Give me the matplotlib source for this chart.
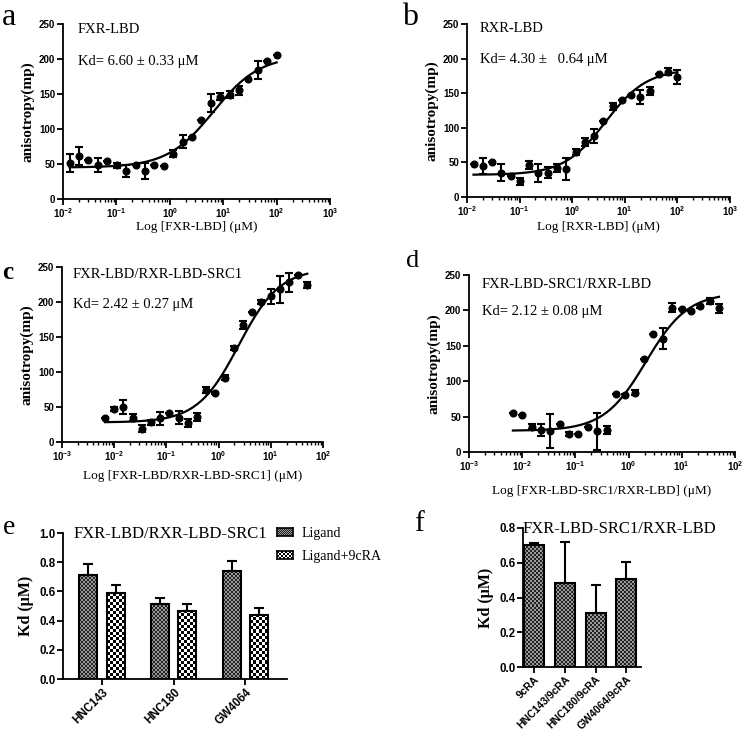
import numpy as np
import matplotlib
matplotlib.use('Agg')
import matplotlib.pyplot as plt
from matplotlib.ticker import LogLocator, MultipleLocator

W, H = 745, 734
SERIF = 'Liberation Serif'
SANS = 'Liberation Sans'

plt.rcParams['font.family'] = SANS
plt.rcParams['font.weight'] = 'bold'
plt.rcParams['mathtext.default'] = 'regular'

################################################################################
############################### DATA ###########################################

# panel a : FXR-LBD titration
conc_a = [0.0133, 0.020, 0.030, 0.045, 0.068, 0.101, 0.152, 0.228, 0.343, 0.514,
          0.771, 1.16, 1.73, 2.60, 3.90, 5.85, 8.78, 13.2, 19.8, 29.6, 44.4,
          66.7, 100.0]
aniso_a = [51, 62, 56, 49, 55, 48, 40, 48, 40, 48, 47, 65, 82, 88, 113, 137, 146,
           149, 155, 172, 184, 197, 206]
err_a = [13, 13, 0, 10, 0, 4, 9, 0, 12, 0, 0, 5, 9, 0, 0, 13, 5, 5, 6, 0, 13, 0, 0]
fit_a = (45, 205, 6.60, 1.0)   # bottom, top, Kd, hill

# panel b : RXR-LBD titration
conc_b = conc_a
aniso_b = [47, 45, 50, 35, 30, 23, 46, 35, 35, 42, 41, 65, 79, 88, 110, 131, 140,
           148, 145, 153, 178, 181, 174]
err_b = [0, 12, 0, 12, 0, 5, 6, 13, 8, 6, 16, 5, 6, 10, 0, 5, 0, 0, 10, 6, 0, 5, 10]
fit_b = (32, 185, 4.30, 1.1)

# panel c : FXR-LBD/RXR-LBD-SRC1
conc_c = [0.00668, 0.0100, 0.0150, 0.0225, 0.0338, 0.0507, 0.0761, 0.114, 0.171,
          0.257, 0.385, 0.578, 0.867, 1.30, 1.95, 2.93, 4.39, 6.58, 9.88, 14.8,
          22.2, 33.3, 50.0]
aniso_c = [35, 47, 50, 35, 19, 28, 34, 41, 35, 27, 36, 74, 70, 92, 134, 167, 186,
           200, 208, 218, 228, 238, 224]
err_c = [0, 3, 10, 5, 5, 4, 9, 0, 9, 6, 6, 4, 2, 4, 3, 6, 0, 3, 11, 19, 14, 0, 4]
fit_c = (28, 248, 2.42, 1.1)

# panel d : FXR-LBD-SRC1/RXR-LBD
conc_d = conc_c
aniso_d = [55, 52, 36, 31, 29, 40, 25, 25, 35, 29, 31, 82, 80, 84, 131, 167, 160,
           204, 202, 199, 206, 213, 203]
err_d = [0, 0, 3, 8, 24, 0, 3, 0, 0, 26, 6, 0, 2, 3, 0, 0, 15, 6, 0, 0, 2, 4, 6]
fit_d = (30, 225, 2.12, 1.1)

# panel e : Kd with ligands
ligands_e = ['HNC143', 'HNC180', 'GW4064']
kd_ligand = [0.711, 0.514, 0.739]
kd_ligand_err = [0.075, 0.043, 0.068]
kd_ligand_9cra = [0.586, 0.466, 0.439]
kd_ligand_9cra_err = [0.057, 0.048, 0.048]

# panel f : Kd with 9cRA combos
ligands_f = ['9cRA', 'HNC143/9cRA', 'HNC180/9cRA', 'GW4064/9cRA']
kd_f = [0.703, 0.481, 0.313, 0.504]
kd_f_err = [0.011, 0.24, 0.159, 0.10]


def px(x, y):
	# pixel position (from top left) to figure fraction
	return x / W, 1 - y / H


def add_axes(fig, left, top, right, bottom):
	return fig.add_axes([left / W, 1 - bottom / H, (right - left) / W,
	                     (bottom - top) / H])


def serif_text(fig, pos, s, size, **kw):
	kw.setdefault('fontweight', 'normal')
	return fig.text(*px(*pos), s, family=SERIF, fontsize=size, va='baseline', **kw)


def style_axes(ax, labelsize=7):
	for s in ['top', 'right']:
		ax.spines[s].set_visible(False)
	for s in ['left', 'bottom']:
		ax.spines[s].set_linewidth(1.3)
	ax.tick_params(which='major', direction='out', length=4, width=1.3,
	               labelsize=labelsize, pad=1.5)
	ax.tick_params(which='minor', direction='out', length=2.5, width=1.0)


def hill(x, bottom, top, kd, n):
	return bottom + (top - bottom) * x**n / (x**n + kd**n)


def binding_panel(fig, box, conc, aniso, err, fit, xlim, xlabel, name, kd_text,
                  name_pos, kd_pos, xlabel_y):
	ax = add_axes(fig, *box)
	ax.set_xscale('log')
	ax.set_xlim(*xlim)
	ax.set_ylim(0, 250)
	ax.yaxis.set_major_locator(MultipleLocator(50))
	ax.xaxis.set_major_locator(LogLocator(base=10))
	ax.xaxis.set_minor_locator(LogLocator(base=10, subs=np.arange(2, 10)))
	xs = np.logspace(np.log10(conc[0]), np.log10(conc[-1]), 200)
	ax.plot(xs, hill(xs, *fit), color='black', lw=1.6, zorder=2)
	ax.errorbar(conc, aniso, yerr=err, fmt='o', color='black', ms=4.8,
	            elinewidth=1.5, capsize=3.2, capthick=1.5, zorder=3,
	            clip_on=False)
	style_axes(ax, 7)
	serif_text(fig, name_pos, name, 10.5)
	serif_text(fig, kd_pos, kd_text, 10.5)
	cx = (box[0] + box[2]) / 2.0
	serif_text(fig, (cx, xlabel_y), xlabel, 9.5, ha='center')
	ax.set_ylabel('anisotropy(mp)', family=SERIF, fontsize=11,
	              fontweight='bold', labelpad=3)
	return ax


def checker_fill(ax, rects, sq_px, dark, light):
	cmap = matplotlib.colors.ListedColormap([dark, light])
	for r in rects:
		x0, y0 = r.get_x(), r.get_y()
		w, h = r.get_width(), r.get_height()
		p0 = ax.transData.transform((x0, y0))
		p1 = ax.transData.transform((x0 + w, y0 + h))
		nx = max(1, int(round((p1[0] - p0[0]) / sq_px)))
		ny = max(1, int(round((p1[1] - p0[1]) / sq_px)))
		img = np.indices((ny, nx)).sum(axis=0) % 2
		im = ax.imshow(img, cmap=cmap, extent=(x0, x0 + w, y0, y0 + h),
		               aspect='auto', interpolation='nearest', zorder=1,
		               vmin=0, vmax=1)
		im.set_clip_path(r)


def swatch(fig, left, top, right, bottom, sq_px, dark, light):
	sa = add_axes(fig, left, top, right, bottom)
	nx = int(round((right - left) / sq_px))
	ny = int(round((bottom - top) / sq_px))
	img = np.indices((ny, nx)).sum(axis=0) % 2
	sa.imshow(img, cmap=matplotlib.colors.ListedColormap([dark, light]),
	          aspect='auto', interpolation='nearest')
	sa.set_xticks([])
	sa.set_yticks([])
	for s in sa.spines.values():
		s.set_linewidth(1.2)


def main():
	fig = plt.figure(figsize=(W / 100.0, H / 100.0), dpi=100)

	binding_panel(fig, (63, 24, 330, 199), conc_a, aniso_a, err_a, fit_a,
	              (1e-2, 1e3), 'Log [FXR-LBD] (\u03bcM)', 'FXR-LBD',
	              'Kd= 6.60 \u00b1 0.33 \u03bcM', (78, 33), (78, 65), 230)
	binding_panel(fig, (467, 24, 730, 197), conc_b, aniso_b, err_b, fit_b,
	              (1e-2, 1e3), 'Log [RXR-LBD] (\u03bcM)', 'RXR-LBD',
	              'Kd= 4.30 \u00b1   0.64 \u03bcM', (480, 32), (480, 63), 230)
	binding_panel(fig, (62, 267, 323, 442), conc_c, aniso_c, err_c, fit_c,
	              (1e-3, 1e2), 'Log [FXR-LBD/RXR-LBD-SRC1] (\u03bcM)',
	              'FXR-LBD/RXR-LBD-SRC1', 'Kd= 2.42 \u00b1 0.27 \u03bcM',
	              (73, 278), (73, 308), 479)
	binding_panel(fig, (469, 275, 735, 452), conc_d, aniso_d, err_d, fit_d,
	              (1e-3, 1e2), 'Log [FXR-LBD-SRC1/RXR-LBD] (\u03bcM)',
	              'FXR-LBD-SRC1/RXR-LBD', 'Kd= 2.12 \u00b1 0.08 \u03bcM',
	              (482, 288), (482, 315), 494)

	LIG = ('#222222', '#9a9a9a', 2.0)
	CRA = ('#000000', '#ffffff', 3.0)

	# panel e
	ax = add_axes(fig, 63, 533, 287, 679)
	x = np.arange(len(ligands_e))
	ax.set_xlim(-0.544, 2.58)
	ax.set_ylim(0, 1.0)
	ax.yaxis.set_major_locator(MultipleLocator(0.2))
	ax.yaxis.set_major_formatter(matplotlib.ticker.FormatStrFormatter('%.1f'))
	off, bw = 0.19, 0.25
	r1 = ax.bar(x - off, kd_ligand, bw, facecolor='none', edgecolor='black',
	            lw=1.5, zorder=3)
	r2 = ax.bar(x + off, kd_ligand_9cra, bw, facecolor='none', edgecolor='black',
	            lw=1.5, zorder=3)
	checker_fill(ax, r1, LIG[2], LIG[0], LIG[1])
	checker_fill(ax, r2, CRA[2], CRA[0], CRA[1])
	ax.errorbar(x - off, kd_ligand, yerr=[np.zeros(3), kd_ligand_err], fmt='none',
	            ecolor='black', elinewidth=1.5, capsize=3.5, capthick=1.5, zorder=2)
	ax.errorbar(x + off, kd_ligand_9cra, yerr=[np.zeros(3), kd_ligand_9cra_err],
	            fmt='none', ecolor='black', elinewidth=1.5, capsize=3.5,
	            capthick=1.5, zorder=2)
	ax.set_xticks(x)
	ax.set_xticklabels(ligands_e, rotation=45, ha='right', rotation_mode='anchor')
	style_axes(ax, 8.3)
	ax.set_ylabel('Kd (\u03bcM)', family=SERIF, fontsize=11.5, fontweight='bold',
	              labelpad=4)
	serif_text(fig, (74, 538), 'FXR-LBD/RXR-LBD-SRC1', 12)
	swatch(fig, 277, 528, 293, 536, 1.0, LIG[0], LIG[1])
	swatch(fig, 277, 551, 293, 559, 2.0, CRA[0], CRA[1])
	serif_text(fig, (302, 537), 'Ligand', 10)
	serif_text(fig, (302, 560), 'Ligand+9cRA', 10)

	# panel f
	ax = add_axes(fig, 523, 528, 641, 667)
	x = np.arange(len(ligands_f))
	ax.set_xlim(-0.36, 3.48)
	ax.set_ylim(0, 0.8)
	ax.yaxis.set_major_locator(MultipleLocator(0.2))
	ax.yaxis.set_major_formatter(matplotlib.ticker.FormatStrFormatter('%.1f'))
	r3 = ax.bar(x, kd_f, 0.65, facecolor='none', edgecolor='black', lw=1.5,
	            zorder=3)
	checker_fill(ax, r3, LIG[2], LIG[0], LIG[1])
	ax.errorbar(x, kd_f, yerr=[np.zeros(4), kd_f_err], fmt='none', ecolor='black',
	            elinewidth=1.5, capsize=3.5, capthick=1.5, zorder=2)
	ax.set_xticks(x)
	ax.set_xticklabels(ligands_f, rotation=45, ha='right', rotation_mode='anchor')
	style_axes(ax, 8.3)
	ax.tick_params(axis='x', labelsize=7.6, pad=1)
	ax.set_ylabel('Kd (\u03bcM)', family=SERIF, fontsize=11.5, fontweight='bold',
	              labelpad=4)
	serif_text(fig, (523, 533), 'FXR-LBD-SRC1/RXR-LBD', 12)

	# panel letters
	serif_text(fig, (2, 25), 'a', 23)
	serif_text(fig, (402, 25), 'b', 23)
	serif_text(fig, (2, 279), 'c', 18, fontweight='bold')
	serif_text(fig, (406, 267), 'd', 19)
	serif_text(fig, (3, 534), 'e', 20)
	serif_text(fig, (414, 531), 'f', 21)

	fig.savefig('out.png', dpi=100)


if __name__ == '__main__':
	main()
